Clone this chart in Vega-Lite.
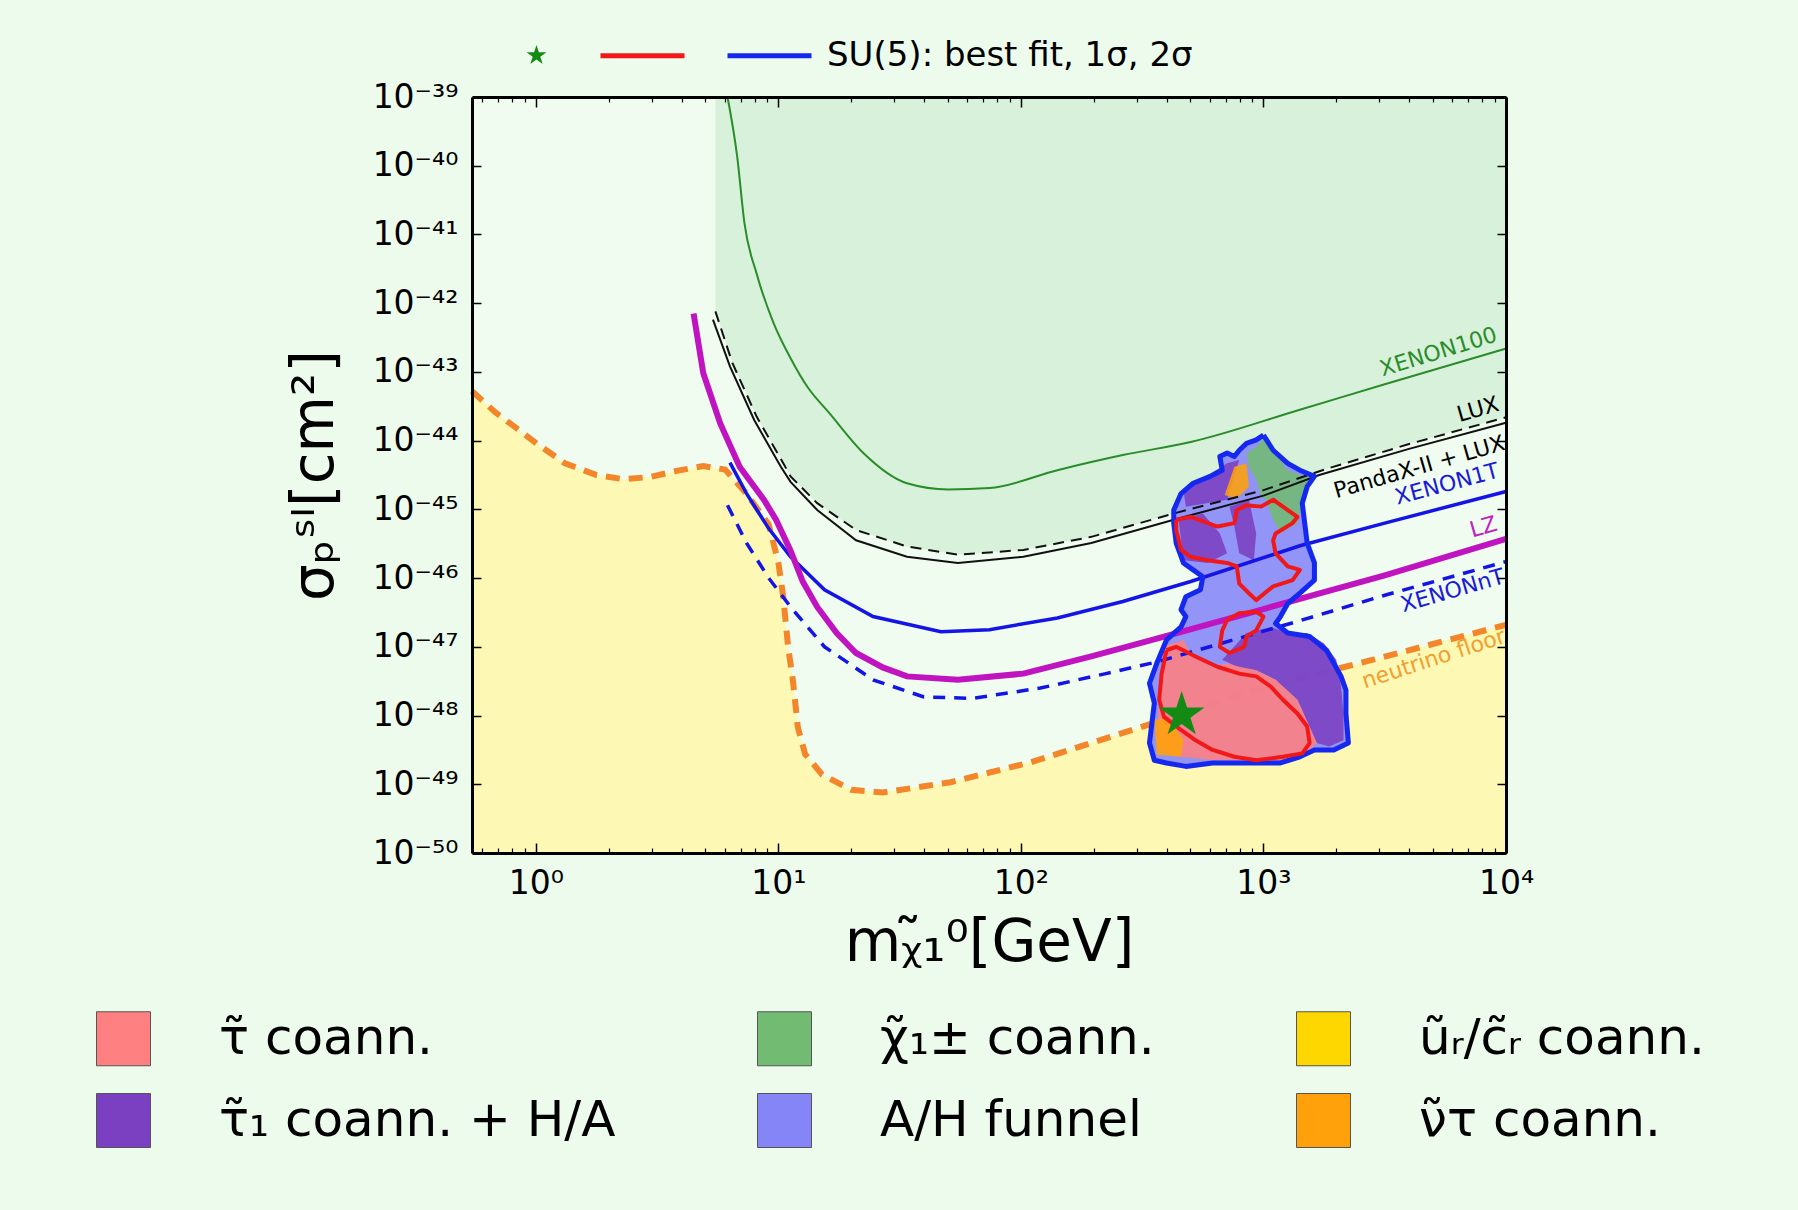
{
"$schema": "https://vega.github.io/schema/vega-lite/v6.json",
"width": 1034, "height": 756,
"autosize": {"type": "none"},
"padding": {"left": 472, "top": 97, "right": 292, "bottom": 357},
"background": "#edfbed",
"config": {"view": {"stroke": null, "fill": "#effcef"}},
"datasets": {
"exp": [
{"exp":"XENON100","m":6.166,"s":1e-39},{"exp":"XENON100","m":6.761,"s":1.349e-40},{"exp":"XENON100","m":7.244,"s":1.445e-41},{"exp":"XENON100","m":8.128,"s":2.692e-42},{"exp":"XENON100","m":9.55,"s":5.129e-43},{"exp":"XENON100","m":11.22,"s":1.585e-43},{"exp":"XENON100","m":13.18,"s":6.026e-44},{"exp":"XENON100","m":16.22,"s":2.512e-44},{"exp":"XENON100","m":22.39,"s":6.607e-45},{"exp":"XENON100","m":33.88,"s":2.399e-45},{"exp":"XENON100","m":50.12,"s":1.95e-45},{"exp":"XENON100","m":74.13,"s":2.042e-45},{"exp":"XENON100","m":141.3,"s":3.715e-45},{"exp":"XENON100","m":263,"s":6.166e-45},{"exp":"XENON100","m":501.2,"s":9.55e-45},{"exp":"XENON100","m":1413,"s":2.818e-44},{"exp":"XENON100","m":3162,"s":6.607e-44},{"exp":"XENON100","m":10000,"s":2.188e-43},
{"exp":"LUX","m":5.495,"s":7.586e-43},{"exp":"LUX","m":6.457,"s":1.349e-43},{"exp":"LUX","m":8.128,"s":2.239e-44},{"exp":"LUX","m":10.47,"s":4.677e-45},{"exp":"LUX","m":11.22,"s":3.02e-45},{"exp":"LUX","m":14.45,"s":1.23e-45},{"exp":"LUX","m":20.89,"s":5.012e-46},{"exp":"LUX","m":33.88,"s":2.884e-46},{"exp":"LUX","m":54.95,"s":2.188e-46},{"exp":"LUX","m":102.3,"s":2.57e-46},{"exp":"LUX","m":195,"s":3.981e-46},{"exp":"LUX","m":426.6,"s":8.71e-46},{"exp":"LUX","m":1000,"s":1.905e-45},{"exp":"LUX","m":1862,"s":3.981e-45},{"exp":"LUX","m":3981,"s":8.913e-45},{"exp":"LUX","m":10000,"s":2.188e-44},
{"exp":"PandaX","m":5.37,"s":5.754e-43},{"exp":"PandaX","m":6.31,"s":1.202e-43},{"exp":"PandaX","m":7.943,"s":1.995e-44},{"exp":"PandaX","m":10.23,"s":4.169e-45},{"exp":"PandaX","m":11.22,"s":2.512e-45},{"exp":"PandaX","m":14.45,"s":9.772e-46},{"exp":"PandaX","m":20.89,"s":3.548e-46},{"exp":"PandaX","m":33.88,"s":2.042e-46},{"exp":"PandaX","m":54.95,"s":1.66e-46},{"exp":"PandaX","m":102.3,"s":2.042e-46},{"exp":"PandaX","m":195,"s":3.236e-46},{"exp":"PandaX","m":426.6,"s":7.079e-46},{"exp":"PandaX","m":1000,"s":1.585e-45},{"exp":"PandaX","m":1698,"s":3.162e-45},{"exp":"PandaX","m":3981,"s":7.586e-45},{"exp":"PandaX","m":10000,"s":1.82e-44},
{"exp":"XENON1T","m":6.31,"s":4.786e-45},{"exp":"XENON1T","m":7.413,"s":1.66e-45},{"exp":"XENON1T","m":9.12,"s":5.248e-46},{"exp":"XENON1T","m":11.22,"s":2.042e-46},{"exp":"XENON1T","m":15.49,"s":6.761e-47},{"exp":"XENON1T","m":24.55,"s":2.754e-47},{"exp":"XENON1T","m":46.77,"s":1.66e-47},{"exp":"XENON1T","m":74.13,"s":1.778e-47},{"exp":"XENON1T","m":141.3,"s":2.63e-47},{"exp":"XENON1T","m":263,"s":4.571e-47},{"exp":"XENON1T","m":501.2,"s":8.913e-47},{"exp":"XENON1T","m":1413,"s":2.951e-46},{"exp":"XENON1T","m":3162,"s":6.31e-46},{"exp":"XENON1T","m":10000,"s":1.82e-45},
{"exp":"LZ","m":4.467,"s":7.079e-43},{"exp":"LZ","m":4.898,"s":9.55e-44},{"exp":"LZ","m":5.754,"s":1.778e-44},{"exp":"LZ","m":6.918,"s":4.169e-45},{"exp":"LZ","m":8.71,"s":1.38e-45},{"exp":"LZ","m":9.772,"s":7.079e-46},{"exp":"LZ","m":11.22,"s":2.512e-46},{"exp":"LZ","m":12.59,"s":8.913e-47},{"exp":"LZ","m":14.45,"s":3.802e-47},{"exp":"LZ","m":17.38,"s":1.585e-47},{"exp":"LZ","m":20.89,"s":8.128e-48},{"exp":"LZ","m":26.92,"s":5.012e-48},{"exp":"LZ","m":33.88,"s":3.715e-48},{"exp":"LZ","m":54.95,"s":3.311e-48},{"exp":"LZ","m":102.3,"s":4.074e-48},{"exp":"LZ","m":195,"s":7.244e-48},{"exp":"LZ","m":363.1,"s":1.318e-47},{"exp":"LZ","m":1000,"s":3.548e-47},{"exp":"LZ","m":3162,"s":1.096e-46},{"exp":"LZ","m":10000,"s":3.715e-46},
{"exp":"XENONnT","m":6.166,"s":1.148e-45},{"exp":"XENONnT","m":7.413,"s":3.162e-46},{"exp":"XENONnT","m":9.12,"s":1e-46},{"exp":"XENONnT","m":11.22,"s":3.802e-47},{"exp":"XENONnT","m":15.49,"s":1e-47},{"exp":"XENONnT","m":24.55,"s":3.311e-48},{"exp":"XENONnT","m":39.81,"s":1.862e-48},{"exp":"XENONnT","m":63.1,"s":1.778e-48},{"exp":"XENONnT","m":120.2,"s":2.512e-48},{"exp":"XENONnT","m":223.9,"s":4.074e-48},{"exp":"XENONnT","m":363.1,"s":6.026e-48},{"exp":"XENONnT","m":1413,"s":2.399e-47},{"exp":"XENONnT","m":3162,"s":5.623e-47},{"exp":"XENONnT","m":10000,"s":1.738e-46},
{"exp":"nf","m":0.545,"s":5.248e-44},{"exp":"nf","m":0.676,"s":2.63e-44},{"exp":"nf","m":1.023,"s":8.71e-45},{"exp":"nf","m":1.318,"s":4.677e-45},{"exp":"nf","m":1.778,"s":3.162e-45},{"exp":"nf","m":2.291,"s":2.754e-45},{"exp":"nf","m":2.951,"s":2.951e-45},{"exp":"nf","m":3.802,"s":3.631e-45},{"exp":"nf","m":4.898,"s":4.266e-45},{"exp":"nf","m":6.026,"s":3.802e-45},{"exp":"nf","m":7.413,"s":1.66e-45},{"exp":"nf","m":9.12,"s":6.026e-46},{"exp":"nf","m":10,"s":1.66e-46},{"exp":"nf","m":10.47,"s":5.248e-47},{"exp":"nf","m":10.96,"s":1e-47},{"exp":"nf","m":11.48,"s":3.162e-48},{"exp":"nf","m":12.02,"s":6.761e-49},{"exp":"nf","m":12.88,"s":2.754e-49},{"exp":"nf","m":15.14,"s":1.38e-49},{"exp":"nf","m":19.95,"s":8.318e-50},{"exp":"nf","m":26.92,"s":7.586e-50},{"exp":"nf","m":51.29,"s":1.072e-49},{"exp":"nf","m":109.6,"s":2.089e-49},{"exp":"nf","m":281.8,"s":6.026e-49},{"exp":"nf","m":977.2,"s":2.512e-48},{"exp":"nf","m":2884,"s":6.607e-48},{"exp":"nf","m":10000,"s":2.089e-47}
],
"contours": [
{"poly":"o2","region":"A/H funnel","level":"2σ","i":1,"m":1000,"s":1.202e-44},{"poly":"o2","region":"A/H funnel","level":"2σ","i":2,"m":1096,"s":7.244e-45},{"poly":"o2","region":"A/H funnel","level":"2σ","i":3,"m":1259,"s":4.677e-45},{"poly":"o2","region":"A/H funnel","level":"2σ","i":4,"m":1413,"s":3.715e-45},{"poly":"o2","region":"A/H funnel","level":"2σ","i":5,"m":1622,"s":3.02e-45},{"poly":"o2","region":"A/H funnel","level":"2σ","i":6,"m":1514,"s":2.138e-45},{"poly":"o2","region":"A/H funnel","level":"2σ","i":7,"m":1445,"s":1.23e-45},{"poly":"o2","region":"A/H funnel","level":"2σ","i":8,"m":1479,"s":6.31e-46},{"poly":"o2","region":"A/H funnel","level":"2σ","i":9,"m":1514,"s":3.236e-46},{"poly":"o2","region":"A/H funnel","level":"2σ","i":10,"m":1622,"s":1.66e-46},
{"poly":"o2","region":"A/H funnel","level":"2σ","i":11,"m":1622,"s":9.333e-47},{"poly":"o2","region":"A/H funnel","level":"2σ","i":12,"m":1413,"s":6.026e-47},{"poly":"o2","region":"A/H funnel","level":"2σ","i":13,"m":1259,"s":4.266e-47},{"poly":"o2","region":"A/H funnel","level":"2σ","i":14,"m":1175,"s":2.754e-47},{"poly":"o2","region":"A/H funnel","level":"2σ","i":15,"m":1122,"s":2.188e-47},{"poly":"o2","region":"A/H funnel","level":"2σ","i":16,"m":1259,"s":1.585e-47},{"poly":"o2","region":"A/H funnel","level":"2σ","i":17,"m":1549,"s":1.413e-47},{"poly":"o2","region":"A/H funnel","level":"2σ","i":18,"m":1820,"s":8.913e-48},{"poly":"o2","region":"A/H funnel","level":"2σ","i":19,"m":1950,"s":5.754e-48},{"poly":"o2","region":"A/H funnel","level":"2σ","i":20,"m":2089,"s":3.715e-48},
{"poly":"o2","region":"A/H funnel","level":"2σ","i":21,"m":2188,"s":2.344e-48},{"poly":"o2","region":"A/H funnel","level":"2σ","i":22,"m":2188,"s":1.072e-48},{"poly":"o2","region":"A/H funnel","level":"2σ","i":23,"m":2239,"s":3.981e-49},{"poly":"o2","region":"A/H funnel","level":"2σ","i":24,"m":1950,"s":3.162e-49},{"poly":"o2","region":"A/H funnel","level":"2σ","i":25,"m":1622,"s":3.162e-49},{"poly":"o2","region":"A/H funnel","level":"2σ","i":26,"m":1413,"s":2.512e-49},{"poly":"o2","region":"A/H funnel","level":"2σ","i":27,"m":1175,"s":2.042e-49},{"poly":"o2","region":"A/H funnel","level":"2σ","i":28,"m":794.3,"s":2.042e-49},{"poly":"o2","region":"A/H funnel","level":"2σ","i":29,"m":616.6,"s":2.042e-49},{"poly":"o2","region":"A/H funnel","level":"2σ","i":30,"m":478.6,"s":1.82e-49},
{"poly":"o2","region":"A/H funnel","level":"2σ","i":31,"m":398.1,"s":2.042e-49},{"poly":"o2","region":"A/H funnel","level":"2σ","i":32,"m":354.8,"s":2.239e-49},{"poly":"o2","region":"A/H funnel","level":"2σ","i":33,"m":338.8,"s":3.981e-49},{"poly":"o2","region":"A/H funnel","level":"2σ","i":34,"m":346.7,"s":7.762e-49},{"poly":"o2","region":"A/H funnel","level":"2σ","i":35,"m":354.8,"s":1.514e-48},{"poly":"o2","region":"A/H funnel","level":"2σ","i":36,"m":338.8,"s":2.951e-48},{"poly":"o2","region":"A/H funnel","level":"2σ","i":37,"m":363.1,"s":5.754e-48},{"poly":"o2","region":"A/H funnel","level":"2σ","i":38,"m":398.1,"s":1.259e-47},{"poly":"o2","region":"A/H funnel","level":"2σ","i":39,"m":457.1,"s":1.95e-47},{"poly":"o2","region":"A/H funnel","level":"2σ","i":40,"m":478.6,"s":2.754e-47},
{"poly":"o2","region":"A/H funnel","level":"2σ","i":41,"m":457.1,"s":3.467e-47},{"poly":"o2","region":"A/H funnel","level":"2σ","i":42,"m":478.6,"s":5.37e-47},{"poly":"o2","region":"A/H funnel","level":"2σ","i":43,"m":549.5,"s":6.761e-47},{"poly":"o2","region":"A/H funnel","level":"2σ","i":44,"m":562.3,"s":1.047e-46},{"poly":"o2","region":"A/H funnel","level":"2σ","i":45,"m":512.9,"s":1.318e-46},{"poly":"o2","region":"A/H funnel","level":"2σ","i":46,"m":467.7,"s":1.66e-46},{"poly":"o2","region":"A/H funnel","level":"2σ","i":47,"m":436.5,"s":3.236e-46},{"poly":"o2","region":"A/H funnel","level":"2σ","i":48,"m":426.6,"s":6.31e-46},{"poly":"o2","region":"A/H funnel","level":"2σ","i":49,"m":426.6,"s":9.772e-46},{"poly":"o2","region":"A/H funnel","level":"2σ","i":50,"m":457.1,"s":1.698e-45},
{"poly":"o2","region":"A/H funnel","level":"2σ","i":51,"m":512.9,"s":2.399e-45},{"poly":"o2","region":"A/H funnel","level":"2σ","i":52,"m":602.6,"s":3.02e-45},{"poly":"o2","region":"A/H funnel","level":"2σ","i":53,"m":676.1,"s":3.715e-45},{"poly":"o2","region":"A/H funnel","level":"2σ","i":54,"m":660.7,"s":5.888e-45},{"poly":"o2","region":"A/H funnel","level":"2σ","i":55,"m":707.9,"s":6.607e-45},{"poly":"o2","region":"A/H funnel","level":"2σ","i":56,"m":758.6,"s":5.888e-45},{"poly":"o2","region":"A/H funnel","level":"2σ","i":57,"m":794.3,"s":7.244e-45},{"poly":"o2","region":"A/H funnel","level":"2σ","i":58,"m":851.1,"s":9.12e-45},{"poly":"o2","region":"A/H funnel","level":"2σ","i":59,"m":933.3,"s":1.023e-44},{"poly":"o2","region":"A/H funnel","level":"2σ","i":60,"m":1000,"s":1.202e-44},
{"poly":"p1","region":"τ̃₁ coann. + H/A","i":1,"m":676.1,"s":6.457e-48},{"poly":"p1","region":"τ̃₁ coann. + H/A","i":2,"m":851.1,"s":1.585e-47},{"poly":"p1","region":"τ̃₁ coann. + H/A","i":3,"m":1072,"s":1.95e-47},{"poly":"p1","region":"τ̃₁ coann. + H/A","i":4,"m":1259,"s":1.585e-47},{"poly":"p1","region":"τ̃₁ coann. + H/A","i":5,"m":1514,"s":1.585e-47},{"poly":"p1","region":"τ̃₁ coann. + H/A","i":6,"m":1778,"s":1.122e-47},{"poly":"p1","region":"τ̃₁ coann. + H/A","i":7,"m":1995,"s":6.457e-48},{"poly":"p1","region":"τ̃₁ coann. + H/A","i":8,"m":2089,"s":2.63e-48},{"poly":"p1","region":"τ̃₁ coann. + H/A","i":9,"m":2138,"s":1.072e-48},{"poly":"p1","region":"τ̃₁ coann. + H/A","i":10,"m":2138,"s":4.365e-49},{"poly":"p1","region":"τ̃₁ coann. + H/A","i":11,"m":1862,"s":3.548e-49},{"poly":"p1","region":"τ̃₁ coann. + H/A","i":12,"m":1660,"s":3.981e-49},{"poly":"p1","region":"τ̃₁ coann. + H/A","i":13,"m":1380,"s":1.698e-48},{"poly":"p1","region":"τ̃₁ coann. + H/A","i":14,"m":1122,"s":3.311e-48},{"poly":"p1","region":"τ̃₁ coann. + H/A","i":15,"m":933.3,"s":4.571e-48},{"poly":"p1","region":"τ̃₁ coann. + H/A","i":16,"m":776.2,"s":5.129e-48},
{"poly":"p2","region":"τ̃₁ coann. + H/A","i":1,"m":446.7,"s":7.079e-46},{"poly":"p2","region":"τ̃₁ coann. + H/A","i":2,"m":562.3,"s":8.71e-46},{"poly":"p2","region":"τ̃₁ coann. + H/A","i":3,"m":660.7,"s":4.467e-46},{"poly":"p2","region":"τ̃₁ coann. + H/A","i":4,"m":707.9,"s":2.291e-46},{"poly":"p2","region":"τ̃₁ coann. + H/A","i":5,"m":588.8,"s":1.66e-46},{"poly":"p2","region":"τ̃₁ coann. + H/A","i":6,"m":467.7,"s":1.82e-46},
{"poly":"p3","region":"τ̃₁ coann. + H/A","i":1,"m":724.4,"s":1.096e-45},{"poly":"p3","region":"τ̃₁ coann. + H/A","i":2,"m":871,"s":1.38e-45},{"poly":"p3","region":"τ̃₁ coann. + H/A","i":3,"m":933.3,"s":4.467e-46},{"poly":"p3","region":"τ̃₁ coann. + H/A","i":4,"m":912,"s":1.82e-46},{"poly":"p3","region":"τ̃₁ coann. + H/A","i":5,"m":794.3,"s":2.291e-46},{"poly":"p3","region":"τ̃₁ coann. + H/A","i":6,"m":758.6,"s":5.623e-46},
{"poly":"p4","region":"τ̃₁ coann. + H/A","i":1,"m":467.7,"s":1.905e-45},{"poly":"p4","region":"τ̃₁ coann. + H/A","i":2,"m":707.9,"s":4.677e-45},{"poly":"p4","region":"τ̃₁ coann. + H/A","i":3,"m":794.3,"s":5.248e-45},{"poly":"p4","region":"τ̃₁ coann. + H/A","i":4,"m":707.9,"s":1.38e-45},{"poly":"p4","region":"τ̃₁ coann. + H/A","i":5,"m":478.6,"s":1.096e-45},
{"poly":"s1","region":"τ̃ coann.","i":1,"m":389,"s":1.023e-47},{"poly":"s1","region":"τ̃ coann.","i":2,"m":467.7,"s":1.259e-47},{"poly":"s1","region":"τ̃ coann.","i":3,"m":501.2,"s":8.128e-48},{"poly":"s1","region":"τ̃ coann.","i":4,"m":616.6,"s":5.129e-48},{"poly":"s1","region":"τ̃ coann.","i":5,"m":707.9,"s":5.754e-48},{"poly":"s1","region":"τ̃ coann.","i":6,"m":794.3,"s":5.129e-48},{"poly":"s1","region":"τ̃ coann.","i":7,"m":933.3,"s":4.571e-48},{"poly":"s1","region":"τ̃ coann.","i":8,"m":1122,"s":3.311e-48},{"poly":"s1","region":"τ̃ coann.","i":9,"m":1380,"s":1.698e-48},{"poly":"s1","region":"τ̃ coann.","i":10,"m":1660,"s":3.981e-49},{"poly":"s1","region":"τ̃ coann.","i":11,"m":1445,"s":2.512e-49},{"poly":"s1","region":"τ̃ coann.","i":12,"m":1175,"s":2.239e-49},{"poly":"s1","region":"τ̃ coann.","i":13,"m":851.1,"s":2.239e-49},{"poly":"s1","region":"τ̃ coann.","i":14,"m":616.6,"s":2.239e-49},{"poly":"s1","region":"τ̃ coann.","i":15,"m":457.1,"s":2.512e-49},{"poly":"s1","region":"τ̃ coann.","i":16,"m":371.5,"s":3.162e-49},{"poly":"s1","region":"τ̃ coann.","i":17,"m":363.1,"s":5.495e-49},{"poly":"s1","region":"τ̃ coann.","i":18,"m":371.5,"s":1.698e-48},{"poly":"s1","region":"τ̃ coann.","i":19,"m":380.2,"s":5.129e-48},
{"poly":"g1","region":"χ̃₁± coann.","i":1,"m":851.1,"s":6.607e-45},{"poly":"g1","region":"χ̃₁± coann.","i":2,"m":933.3,"s":8.128e-45},{"poly":"g1","region":"χ̃₁± coann.","i":3,"m":1023,"s":1.148e-44},{"poly":"g1","region":"χ̃₁± coann.","i":4,"m":1072,"s":7.244e-45},{"poly":"g1","region":"χ̃₁± coann.","i":5,"m":1175,"s":5.248e-45},{"poly":"g1","region":"χ̃₁± coann.","i":6,"m":1259,"s":3.715e-45},{"poly":"g1","region":"χ̃₁± coann.","i":7,"m":1413,"s":3.162e-45},{"poly":"g1","region":"χ̃₁± coann.","i":8,"m":1549,"s":3.02e-45},{"poly":"g1","region":"χ̃₁± coann.","i":9,"m":1479,"s":1.698e-45},{"poly":"g1","region":"χ̃₁± coann.","i":10,"m":1413,"s":8.71e-46},{"poly":"g1","region":"χ̃₁± coann.","i":11,"m":1380,"s":6.31e-46},{"poly":"g1","region":"χ̃₁± coann.","i":12,"m":1175,"s":4.467e-46},{"poly":"g1","region":"χ̃₁± coann.","i":13,"m":1096,"s":7.079e-46},{"poly":"g1","region":"χ̃₁± coann.","i":14,"m":1023,"s":1.38e-45},{"poly":"g1","region":"χ̃₁± coann.","i":15,"m":977.2,"s":1.549e-45},{"poly":"g1","region":"χ̃₁± coann.","i":16,"m":933.3,"s":2.692e-45},{"poly":"g1","region":"χ̃₁± coann.","i":17,"m":871,"s":4.169e-45},
{"poly":"n1","region":"ν̃τ coann.","i":1,"m":758.6,"s":4.169e-45},{"poly":"n1","region":"ν̃τ coann.","i":2,"m":851.1,"s":4.677e-45},{"poly":"n1","region":"ν̃τ coann.","i":3,"m":871,"s":2.138e-45},{"poly":"n1","region":"ν̃τ coann.","i":4,"m":776.2,"s":1.445e-45},{"poly":"n1","region":"ν̃τ coann.","i":5,"m":691.8,"s":1.622e-45},
{"poly":"n2","region":"ν̃τ coann.","i":1,"m":354.8,"s":8.71e-49},{"poly":"n2","region":"ν̃τ coann.","i":2,"m":407.4,"s":9.12e-49},{"poly":"n2","region":"ν̃τ coann.","i":3,"m":467.7,"s":4.365e-49},{"poly":"n2","region":"ν̃τ coann.","i":4,"m":457.1,"s":2.512e-49},{"poly":"n2","region":"ν̃τ coann.","i":5,"m":363.1,"s":2.692e-49},
{"poly":"r1","level":"1σ","i":1,"m":436.5,"s":7.079e-46},{"poly":"r1","level":"1σ","i":2,"m":501.2,"s":7.762e-46},{"poly":"r1","level":"1σ","i":3,"m":645.7,"s":5.623e-46},{"poly":"r1","level":"1σ","i":4,"m":758.6,"s":6.31e-46},{"poly":"r1","level":"1σ","i":5,"m":776.2,"s":9.772e-46},{"poly":"r1","level":"1σ","i":6,"m":851.1,"s":1.148e-45},{"poly":"r1","level":"1σ","i":7,"m":977.2,"s":1.096e-45},{"poly":"r1","level":"1σ","i":8,"m":1096,"s":1.38e-45},{"poly":"r1","level":"1σ","i":9,"m":1202,"s":1.096e-45},{"poly":"r1","level":"1σ","i":10,"m":1380,"s":7.762e-46},{"poly":"r1","level":"1σ","i":11,"m":1318,"s":6.31e-46},{"poly":"r1","level":"1σ","i":12,"m":1122,"s":4.467e-46},{"poly":"r1","level":"1σ","i":13,"m":1096,"s":3.548e-46},{"poly":"r1","level":"1σ","i":14,"m":1122,"s":2.291e-46},
{"poly":"r1","level":"1σ","i":15,"m":1259,"s":1.479e-46},{"poly":"r1","level":"1σ","i":16,"m":1413,"s":1.318e-46},{"poly":"r1","level":"1σ","i":17,"m":1318,"s":9.333e-47},{"poly":"r1","level":"1σ","i":18,"m":1096,"s":7.586e-47},{"poly":"r1","level":"1σ","i":19,"m":933.3,"s":4.786e-47},{"poly":"r1","level":"1σ","i":20,"m":871,"s":6.026e-47},{"poly":"r1","level":"1σ","i":21,"m":794.3,"s":8.318e-47},{"poly":"r1","level":"1σ","i":22,"m":776.2,"s":1.479e-46},{"poly":"r1","level":"1σ","i":23,"m":707.9,"s":1.66e-46},{"poly":"r1","level":"1σ","i":24,"m":588.8,"s":1.82e-46},{"poly":"r1","level":"1σ","i":25,"m":501.2,"s":2.042e-46},{"poly":"r1","level":"1σ","i":26,"m":457.1,"s":2.57e-46},{"poly":"r1","level":"1σ","i":27,"m":436.5,"s":5.012e-46},{"poly":"r1","level":"1σ","i":28,"m":436.5,"s":7.079e-46},
{"poly":"r2","level":"1σ","i":1,"m":707.9,"s":2.455e-47},{"poly":"r2","level":"1σ","i":2,"m":794.3,"s":3.09e-47},{"poly":"r2","level":"1σ","i":3,"m":933.3,"s":3.236e-47},{"poly":"r2","level":"1σ","i":4,"m":1000,"s":2.754e-47},{"poly":"r2","level":"1σ","i":5,"m":933.3,"s":1.738e-47},{"poly":"r2","level":"1σ","i":6,"m":851.1,"s":1.413e-47},{"poly":"r2","level":"1σ","i":7,"m":831.8,"s":1e-47},{"poly":"r2","level":"1σ","i":8,"m":724.4,"s":8.128e-48},{"poly":"r2","level":"1σ","i":9,"m":660.7,"s":1e-47},{"poly":"r2","level":"1σ","i":10,"m":676.1,"s":1.738e-47},{"poly":"r2","level":"1σ","i":11,"m":707.9,"s":2.455e-47},
{"poly":"r3","level":"1σ","i":1,"m":398.1,"s":8.913e-48},{"poly":"r3","level":"1σ","i":2,"m":436.5,"s":1e-47},{"poly":"r3","level":"1σ","i":3,"m":524.8,"s":7.244e-48},{"poly":"r3","level":"1σ","i":4,"m":645.7,"s":5.129e-48},{"poly":"r3","level":"1σ","i":5,"m":794.3,"s":4.074e-48},{"poly":"r3","level":"1σ","i":6,"m":933.3,"s":3.715e-48},{"poly":"r3","level":"1σ","i":7,"m":1072,"s":2.63e-48},{"poly":"r3","level":"1σ","i":8,"m":1202,"s":1.698e-48},{"poly":"r3","level":"1σ","i":9,"m":1380,"s":1.072e-48},{"poly":"r3","level":"1σ","i":10,"m":1514,"s":6.918e-49},{"poly":"r3","level":"1σ","i":11,"m":1549,"s":3.981e-49},
{"poly":"r3","level":"1σ","i":12,"m":1445,"s":2.818e-49},{"poly":"r3","level":"1σ","i":13,"m":1202,"s":2.512e-49},{"poly":"r3","level":"1σ","i":14,"m":933.3,"s":2.239e-49},{"poly":"r3","level":"1σ","i":15,"m":758.6,"s":2.512e-49},{"poly":"r3","level":"1σ","i":16,"m":616.6,"s":3.162e-49},{"poly":"r3","level":"1σ","i":17,"m":524.8,"s":4.365e-49},{"poly":"r3","level":"1σ","i":18,"m":457.1,"s":6.166e-49},{"poly":"r3","level":"1σ","i":19,"m":389,"s":9.55e-49},{"poly":"r3","level":"1σ","i":20,"m":371.5,"s":1.698e-48},{"poly":"r3","level":"1σ","i":21,"m":380.2,"s":4.074e-48},{"poly":"r3","level":"1σ","i":22,"m":398.1,"s":8.913e-48}
],
"labels": [
{"label":"XENON100","m":9441,"s":2.4e-43},
{"label":"LUX","m":9594,"s":2.344e-44},
{"label":"PandaX-II + LUX","m":9594,"s":1.288e-44},
{"label":"XENON1T","m":9594,"s":2.512e-45},
{"label":"LZ","m":9441,"s":4.266e-46},
{"label":"XENONnT","m":9550,"s":1.479e-46},
{"label":"neutrino floor","m":9594,"s":2.0e-47}
],
"best": [{"fit":"best fit","m":460,"s":1.02e-48}]
},
"encoding": {
"x": {"field":"m","type":"quantitative","scale":{"type":"log","domain":[0.545,10000],"nice":false},"axis":null},
"y": {"field":"s","type":"quantitative","scale":{"type":"log","domain":[1e-50,1e-39],"nice":false},"axis":null}
},
"resolve": {"axis": {"x":"independent","y":"independent"}},
"layer": [
{"data":{"name":"exp"},"transform":[{"filter":"datum.exp === 'nf'"}],
 "mark":{"type":"area","color":"#fdf8b3","opacity":1},
 "encoding":{
  "x":{"field":"m","type":"quantitative","scale":{"type":"log","domain":[0.545,10000],"nice":false},
   "axis":{"orient":"bottom","values":[1,10,100,1000,10000],"labelExpr":"'10' + ['⁰','¹','²','³','⁴'][round(log(datum.value)/LN10)]","labelFont":"DejaVu Sans","labelFontSize":33,"labelColor":"#000000","labelPadding":24,"labelFlush":false,"labelOverlap":false,"tickSize":-10,"tickColor":"#000000","tickWidth":1.5,"domain":true,"domainColor":"#000000","domainWidth":3,"grid":false,"title":"mᵪ̃₁⁰[GeV]","titleFont":"DejaVu Sans","titleFontSize":58,"titleFontWeight":"normal","titleColor":"#000000","titlePadding":14,"zindex":2}},
  "y":{"field":"s","type":"quantitative","scale":{"type":"log","domain":[1e-50,1e-39],"nice":false},
   "axis":{"orient":"left","values":[1e-50,1e-49,1e-48,1e-47,1e-46,1e-45,1e-44,1e-43,1e-42,1e-41,1e-40,1e-39],"labelExpr":"'10⁻' + ['⁰','¹','²','³','⁴','⁵','⁶','⁷','⁸','⁹'][floor(-round(log(datum.value)/LN10)/10)] + ['⁰','¹','²','³','⁴','⁵','⁶','⁷','⁸','⁹'][(-round(log(datum.value)/LN10)) % 10]","labelFont":"DejaVu Sans","labelFontSize":33,"labelColor":"#000000","labelPadding":23,"labelOverlap":false,"labelFlush":false,"tickSize":-9,"tickColor":"#000000","tickWidth":1.5,"domain":true,"domainColor":"#000000","domainWidth":3,"grid":false,"title":"σₚˢᴵ[cm²]","titleFont":"DejaVu Sans","titleFontSize":58,"titleFontWeight":"normal","titleColor":"#000000","titlePadding":28,"zindex":2}},
  "y2":{"datum":1e-50}}},
{"data":{"name":"exp"},"transform":[{"filter":"datum.exp === 'LUX'"}],
 "mark":{"type":"area","color":"#d8f1da","opacity":1},
 "encoding":{"y2":{"datum":1e-39}}},
{"data":{"name":"exp"},"transform":[{"filter":"datum.exp === 'nf'"}],
 "mark":{"type":"line","color":"#f3862a","strokeWidth":6,"strokeDash":[14,9]}},
{"data":{"name":"contours"},"transform":[{"filter":"datum.region === 'A/H funnel'"}],
 "mark":{"type":"line","strokeWidth":0,"fillOpacity":0.88},
 "encoding":{"fill":{"field":"region","type":"nominal","scale":{"domain":["τ̃ coann.","χ̃₁± coann.","ũᵣ/c̃ᵣ coann.","τ̃₁ coann. + H/A","A/H funnel","ν̃τ coann."],"range":["#ff8080","#72bb72","#ffd700","#7b40c2","#8585f8","#ffa10a"]},
   "legend":{"orient":"none","legendX":-376,"legendY":914,"title":null,"columns":3,"direction":"horizontal","symbolType":"square","symbolSize":2916,"symbolStrokeColor":"#555555","symbolStrokeWidth":1,"symbolOpacity":1,"labelFont":"DejaVu Sans","labelFontSize":50,"labelColor":"#000000","labelOffset":68,"columnPadding":139,"rowPadding":23,"padding":0,"labelLimit":900,"gridAlign":"each"}},
  "detail":{"field":"poly"},"order":{"field":"i","type":"quantitative"}}},
{"data":{"name":"contours"},"transform":[{"filter":"datum.region === 'τ̃₁ coann. + H/A'"}],
 "mark":{"type":"line","strokeWidth":0,"fillOpacity":0.88},
 "encoding":{"fill":{"field":"region","type":"nominal","scale":{"domain":["τ̃ coann.","χ̃₁± coann.","ũᵣ/c̃ᵣ coann.","τ̃₁ coann. + H/A","A/H funnel","ν̃τ coann."],"range":["#ff8080","#72bb72","#ffd700","#7b40c2","#8585f8","#ffa10a"]},
   "legend":{"orient":"none","legendX":-376,"legendY":914,"title":null,"columns":3,"direction":"horizontal","symbolType":"square","symbolSize":2916,"symbolStrokeColor":"#555555","symbolStrokeWidth":1,"symbolOpacity":1,"labelFont":"DejaVu Sans","labelFontSize":50,"labelColor":"#000000","labelOffset":68,"columnPadding":139,"rowPadding":23,"padding":0,"labelLimit":900,"gridAlign":"each"}},
  "detail":{"field":"poly"},"order":{"field":"i","type":"quantitative"}}},
{"data":{"name":"contours"},"transform":[{"filter":"datum.region === 'τ̃ coann.'"}],
 "mark":{"type":"line","strokeWidth":0,"fillOpacity":0.88},
 "encoding":{"fill":{"field":"region","type":"nominal","scale":{"domain":["τ̃ coann.","χ̃₁± coann.","ũᵣ/c̃ᵣ coann.","τ̃₁ coann. + H/A","A/H funnel","ν̃τ coann."],"range":["#ff8080","#72bb72","#ffd700","#7b40c2","#8585f8","#ffa10a"]},
   "legend":{"orient":"none","legendX":-376,"legendY":914,"title":null,"columns":3,"direction":"horizontal","symbolType":"square","symbolSize":2916,"symbolStrokeColor":"#555555","symbolStrokeWidth":1,"symbolOpacity":1,"labelFont":"DejaVu Sans","labelFontSize":50,"labelColor":"#000000","labelOffset":68,"columnPadding":139,"rowPadding":23,"padding":0,"labelLimit":900,"gridAlign":"each"}},
  "detail":{"field":"poly"},"order":{"field":"i","type":"quantitative"}}},
{"data":{"name":"contours"},"transform":[{"filter":"datum.region === 'χ̃₁± coann.'"}],
 "mark":{"type":"line","strokeWidth":0,"fillOpacity":0.88},
 "encoding":{"fill":{"field":"region","type":"nominal","scale":{"domain":["τ̃ coann.","χ̃₁± coann.","ũᵣ/c̃ᵣ coann.","τ̃₁ coann. + H/A","A/H funnel","ν̃τ coann."],"range":["#ff8080","#72bb72","#ffd700","#7b40c2","#8585f8","#ffa10a"]},
   "legend":{"orient":"none","legendX":-376,"legendY":914,"title":null,"columns":3,"direction":"horizontal","symbolType":"square","symbolSize":2916,"symbolStrokeColor":"#555555","symbolStrokeWidth":1,"symbolOpacity":1,"labelFont":"DejaVu Sans","labelFontSize":50,"labelColor":"#000000","labelOffset":68,"columnPadding":139,"rowPadding":23,"padding":0,"labelLimit":900,"gridAlign":"each"}},
  "detail":{"field":"poly"},"order":{"field":"i","type":"quantitative"}}},
{"data":{"name":"contours"},"transform":[{"filter":"datum.region === 'ν̃τ coann.'"}],
 "mark":{"type":"line","strokeWidth":0,"fillOpacity":0.88},
 "encoding":{"fill":{"field":"region","type":"nominal","scale":{"domain":["τ̃ coann.","χ̃₁± coann.","ũᵣ/c̃ᵣ coann.","τ̃₁ coann. + H/A","A/H funnel","ν̃τ coann."],"range":["#ff8080","#72bb72","#ffd700","#7b40c2","#8585f8","#ffa10a"]},
   "legend":{"orient":"none","legendX":-376,"legendY":914,"title":null,"columns":3,"direction":"horizontal","symbolType":"square","symbolSize":2916,"symbolStrokeColor":"#555555","symbolStrokeWidth":1,"symbolOpacity":1,"labelFont":"DejaVu Sans","labelFontSize":50,"labelColor":"#000000","labelOffset":68,"columnPadding":139,"rowPadding":23,"padding":0,"labelLimit":900,"gridAlign":"each"}},
  "detail":{"field":"poly"},"order":{"field":"i","type":"quantitative"}}},
{"data":{"name":"exp"},"transform":[{"filter":"datum.exp === 'XENON100'"}],
 "mark":{"type":"line","color":"#2a8c2a","strokeWidth":2,"interpolate":"monotone"}},
{"data":{"name":"exp"},"transform":[{"filter":"datum.exp === 'LUX'"}],
 "mark":{"type":"line","color":"#111111","strokeWidth":2,"strokeDash":[11,7]}},
{"data":{"name":"exp"},"transform":[{"filter":"datum.exp === 'PandaX'"}],
 "mark":{"type":"line","color":"#111111","strokeWidth":2}},
{"data":{"name":"exp"},"transform":[{"filter":"datum.exp === 'XENON1T'"}],
 "mark":{"type":"line","color":"#1414e6","strokeWidth":3.5}},
{"data":{"name":"exp"},"transform":[{"filter":"datum.exp === 'LZ'"}],
 "mark":{"type":"line","color":"#c014c0","strokeWidth":6}},
{"data":{"name":"exp"},"transform":[{"filter":"datum.exp === 'XENONnT'"}],
 "mark":{"type":"line","color":"#1414e6","strokeWidth":3.5,"strokeDash":[12,9]}},
{"data":{"name":"labels"},"transform":[{"filter":"datum.label === 'XENON100'"}],
 "mark":{"type":"text","align":"right","baseline":"bottom","angle":343,"font":"DejaVu Sans","fontSize":22,"color":"#2a8c2a"},
 "encoding":{"text":{"field":"label"},
  "x":{"field":"m","type":"quantitative","scale":{"type":"log","domain":[0.545,10000],"nice":false},
   "axis":{"orient":"bottom","values":[0.6,0.7,0.8,0.9,2,3,4,5,6,7,8,9,20,30,40,50,60,70,80,90,200,300,400,500,600,700,800,900,2000,3000,4000,5000,6000,7000,8000,9000],"labels":false,"tickSize":-5,"tickColor":"#000000","tickWidth":1.2,"domain":false,"grid":false,"title":null,"zindex":2}}}},
{"data":{"name":"labels"},"transform":[{"filter":"datum.label === 'LUX'"}],
 "mark":{"type":"text","align":"right","baseline":"bottom","angle":344,"font":"DejaVu Sans","fontSize":22,"color":"#000000"},
 "encoding":{"text":{"field":"label"}}},
{"data":{"name":"labels"},"transform":[{"filter":"datum.label === 'PandaX-II + LUX'"}],
 "mark":{"type":"text","align":"right","baseline":"top","angle":344,"font":"DejaVu Sans","fontSize":22,"color":"#000000"},
 "encoding":{"text":{"field":"label"}}},
{"data":{"name":"labels"},"transform":[{"filter":"datum.label === 'XENON1T'"}],
 "mark":{"type":"text","align":"right","baseline":"bottom","angle":345,"font":"DejaVu Sans","fontSize":22,"color":"#1a1ad8"},
 "encoding":{"text":{"field":"label"}}},
{"data":{"name":"labels"},"transform":[{"filter":"datum.label === 'LZ'"}],
 "mark":{"type":"text","align":"right","baseline":"bottom","angle":344,"font":"DejaVu Sans","fontSize":22,"color":"#c020c0"},
 "encoding":{"text":{"field":"label"}}},
{"data":{"name":"labels"},"transform":[{"filter":"datum.label === 'XENONnT'"}],
 "mark":{"type":"text","align":"right","baseline":"top","angle":344,"font":"DejaVu Sans","fontSize":22,"color":"#1a1ad8"},
 "encoding":{"text":{"field":"label"}}},
{"data":{"name":"labels"},"transform":[{"filter":"datum.label === 'neutrino floor'"}],
 "mark":{"type":"text","align":"right","baseline":"top","angle":342,"font":"DejaVu Sans","fontSize":22,"color":"#f0a030"},
 "encoding":{"text":{"field":"label"}}},
{"data":{"name":"contours"},"transform":[{"filter":"datum.level === '2σ'"}],
 "mark":{"type":"line","strokeWidth":5,"strokeJoin":"round"},
 "encoding":{"stroke":{"field":"level","type":"nominal","scale":{"domain":["1σ","2σ"],"range":["#f01818","#1428f0"]},
   "legend":{"orient":"none","legendX":126,"legendY":-86,"direction":"horizontal","title":null,"symbolType":"stroke","symbolSize":7056,"symbolStrokeWidth":5,"labelExpr":"datum.value === '2σ' ? 'SU(5): best fit, 1σ, 2σ' : ''","labelFont":"DejaVu Sans","labelFontSize":34,"labelColor":"#000000","labelOffset":13,"columnPadding":17,"padding":0,"labelLimit":900}},
  "detail":{"field":"poly"},"order":{"field":"i","type":"quantitative"},
  "x":{"field":"m","type":"quantitative","scale":{"type":"log","domain":[0.545,10000],"nice":false},
   "axis":{"orient":"top","values":[0.6,0.7,0.8,0.9,2,3,4,5,6,7,8,9,20,30,40,50,60,70,80,90,200,300,400,500,600,700,800,900,2000,3000,4000,5000,6000,7000,8000,9000],"labels":false,"tickSize":-5,"tickColor":"#000000","tickWidth":1.2,"domain":false,"grid":false,"title":null,"zindex":2}}}},
{"data":{"name":"contours"},"transform":[{"filter":"datum.level === '1σ'"}],
 "mark":{"type":"line","strokeWidth":4,"strokeJoin":"round"},
 "encoding":{"stroke":{"field":"level","type":"nominal","scale":{"domain":["1σ","2σ"],"range":["#f01818","#1428f0"]},
   "legend":{"orient":"none","legendX":126,"legendY":-86,"direction":"horizontal","title":null,"symbolType":"stroke","symbolSize":7056,"symbolStrokeWidth":5,"labelExpr":"datum.value === '2σ' ? 'SU(5): best fit, 1σ, 2σ' : ''","labelFont":"DejaVu Sans","labelFontSize":34,"labelColor":"#000000","labelOffset":13,"columnPadding":17,"padding":0,"labelLimit":900}},
  "detail":{"field":"poly"},"order":{"field":"i","type":"quantitative"},
  "x":{"field":"m","type":"quantitative","scale":{"type":"log","domain":[0.545,10000],"nice":false},
   "axis":{"orient":"top","values":[1,10,100,1000,10000],"labels":false,"tickSize":-10,"tickColor":"#000000","tickWidth":1.5,"domain":true,"domainColor":"#000000","domainWidth":3,"grid":false,"title":null,"zindex":2}},
  "y":{"field":"s","type":"quantitative","scale":{"type":"log","domain":[1e-50,1e-39],"nice":false},
   "axis":{"orient":"right","values":[1e-50,1e-49,1e-48,1e-47,1e-46,1e-45,1e-44,1e-43,1e-42,1e-41,1e-40,1e-39],"labels":false,"tickSize":-9,"tickColor":"#000000","tickWidth":1.5,"domain":true,"domainColor":"#000000","domainWidth":3,"grid":false,"title":null,"zindex":2}}}},
{"data":{"name":"best"},
 "mark":{"type":"point","filled":true,"color":"#138a13","opacity":1,"strokeWidth":0},
 "encoding":{"shape":{"field":"fit","type":"nominal","scale":{"domain":["best fit"],"range":["M0,-1L0.2245,-0.309L0.9511,-0.309L0.3633,0.118L0.5878,0.809L0,0.382L-0.5878,0.809L-0.3633,0.118L-0.9511,-0.309L-0.2245,-0.309Z"]},
   "legend":{"orient":"none","legendX":54,"legendY":-52,"title":null,"symbolSize":440,"labelExpr":"''","labelFontSize":1,"padding":0,"symbolFillColor":"#138a13","symbolStrokeWidth":0}},
  "size":{"value":2300}}}
]
}
